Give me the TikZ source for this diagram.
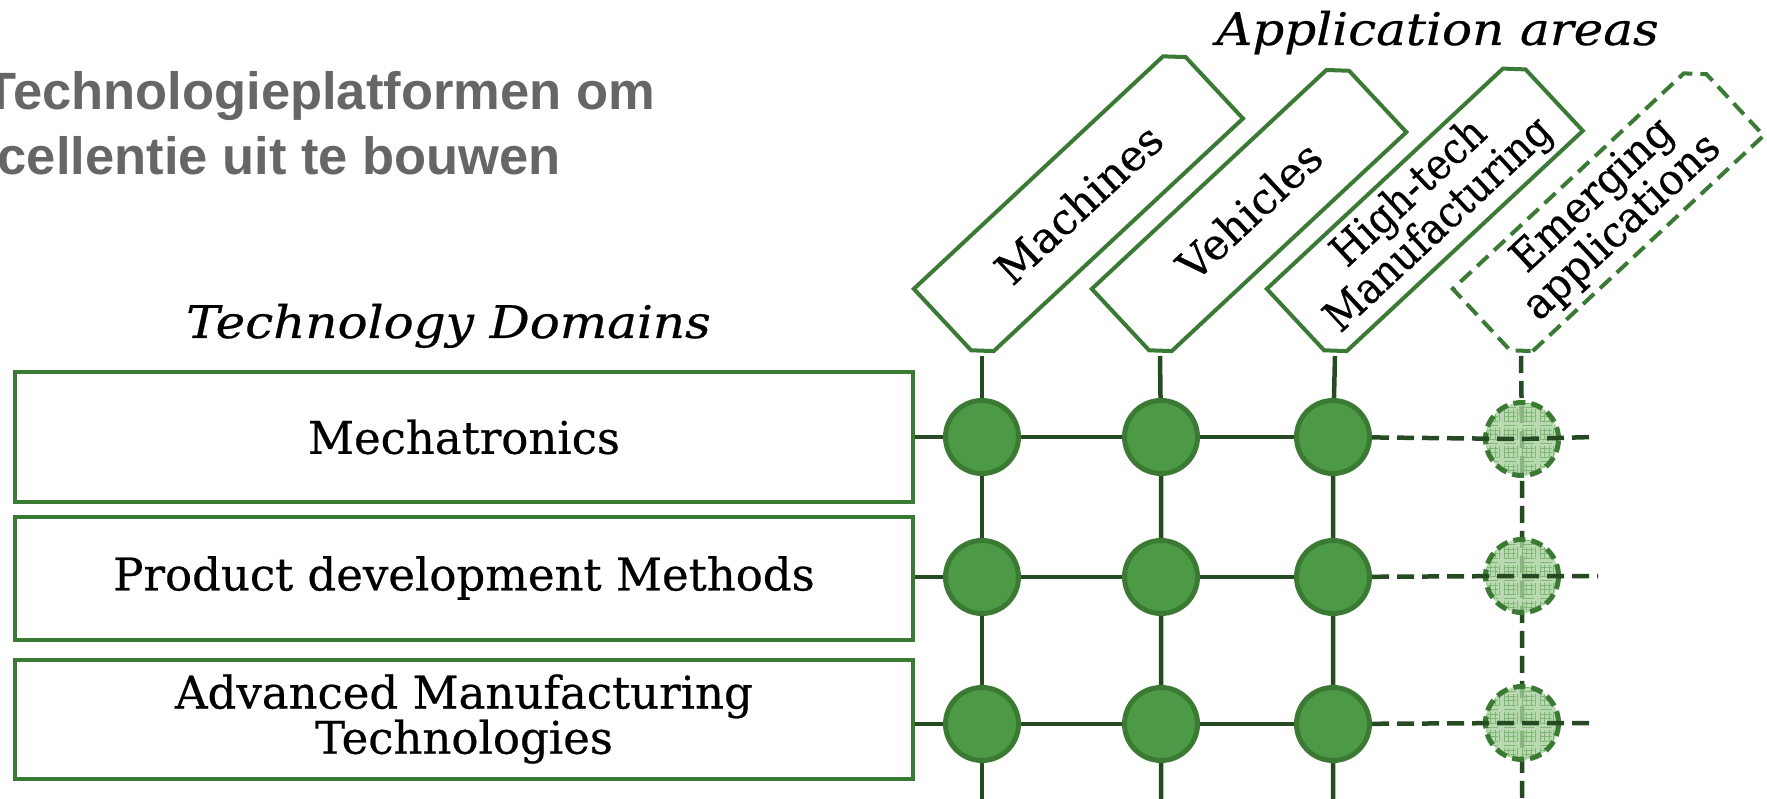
\documentclass[tikz,border=0pt]{standalone}
\usepackage{fontspec}
\setmainfont{DejaVu Serif}[FakeBold=0.5]
\newfontfamily\titlefont{Liberation Sans}
\usetikzlibrary{calc}
\definecolor{tagG}{HTML}{3B7A35}
\definecolor{lineG}{HTML}{264B22}
\definecolor{dotF}{HTML}{4C9A45}
\definecolor{dotB}{HTML}{3A7A33}
\definecolor{lightF}{HTML}{A9CFA0}
\definecolor{gridG}{HTML}{7DB874}
\definecolor{titleG}{HTML}{666666}
\pgfdeclarelayer{bg}
\pgfsetlayers{bg,main}
\newcommand\apptag[6]{%
  \draw[#4] (#2+0.731*16, 362-0.682*16) -- (#2+0.731*#3, 362-0.682*#3)
    -- (#2+0.731*#3-0.682*84, 362-0.682*#3-0.731*84)
    -- (#2+0.731*#3-0.731*16-68.2, 362-0.682*#3+0.682*16-73.1)
    -- (#2-68.2, 362-73.1) -- (#2-0.682*16, 362-0.731*16) -- cycle;
  \node[tagtext, #5] (#1) at (#2+0.3655*#3-34.1, 362-0.341*#3-36.55) {#6};
  \coordinate (#1b) at (#2, 356);
}
\begin{document}
\begin{tikzpicture}[x=1pt, y=-1pt,
  boxtext/.style={font=\fontsize{45}{40}\selectfont, align=center},
  domainbox/.style={draw=tagG, line width=4pt, fill=white, minimum width=898pt, inner sep=0pt, boxtext},
  tagtext/.style={rotate=43, align=center, font=\fontsize{43}{40}\selectfont, inner sep=0pt},
  tagline/.style={draw=tagG, line width=4pt, fill=white, line join=miter},
  tagdash/.style={tagline, dash pattern=on 15pt off 8pt},
  heading/.style={font=\fontsize{45}{50}\selectfont\itshape, inner sep=0pt, xscale=1.11},
  titletext/.style={font=\titlefont\bfseries\fontsize{52.5}{65}\selectfont, text=titleG, inner sep=0pt},
  dot/.style={circle, fill=dotF, draw=dotB, line width=5pt, minimum size=73pt, inner sep=0pt},
  edot/.style={circle, fill=lightF, fill opacity=0.8, draw=dotB, line width=5pt, dash pattern=on 12pt off 6pt, minimum size=73pt, inner sep=0pt,
    path picture={\draw[gridG, line width=0.6pt, step=4.5pt] (path picture bounding box.south west) grid (path picture bounding box.north east);}},
  link/.style={draw=lineG, line width=4.5pt},
  dlink/.style={link, dash pattern=on 17pt off 8pt}
]
\useasboundingbox (0,0) rectangle (1767,799);
\clip (0,0) rectangle (1767,799);

% title
\node[titletext, anchor=base east] (title1) at (655,110) {Technologieplatformen om};
\node[titletext, anchor=base east] (title2) at (561,175) {cellentie uit te bouwen};

% headings
\node[heading, anchor=base west] (apphead) at (1216,45) {Application areas};
\node[heading, anchor=base west] (techhead) at (186,338) {Technology Domains};

% domain boxes
\node[domainbox, minimum height=130pt] (d1) at (464,437) {Mechatronics};
\node[domainbox, minimum height=123pt] (d2) at (464,578) {Product development Methods};
\node[domainbox, minimum height=119pt] (d3) at (464,719) {Advanced Manufacturing\\Technologies};

% application tags
\apptag{t1}{982}{357}{tagline}{}{Machines}
\apptag{t2}{1160}{337}{tagline}{}{Vehicles}
\apptag{t3}{1335}{339}{tagline}{xscale=0.9}{High-tech\\Manufacturing}
\apptag{t4}{1521}{332}{tagdash}{xscale=0.95}{Emerging\\applications}

% matrix dots
\foreach \c/\x in {1/982, 2/1161, 3/1333} {
  \node[dot] (c1\c) at (\x,437) {};
  \node[dot] (c2\c) at (\x,577) {};
  \node[dot] (c3\c) at (\x,724) {};
}
\node[edot] (c14) at (1522,439) {};
\node[edot] (c24) at (1522,576) {};
\node[edot] (c34) at (1522,723) {};

% free ends
\coordinate (v1end) at (982,805);
\coordinate (v2end) at (1161,805);
\coordinate (v3end) at (1333,805);
\coordinate (v4end) at (1522,805);
\coordinate (r1end) at (1593,437);
\coordinate (r2end) at (1598,576);
\coordinate (r3end) at (1593,723);

\begin{pgfonlayer}{bg}
  \draw[link] (t1b) -- (c11.center) -- (c21.center) -- (c31.center) -- (v1end);
  \draw[link] (t2b) -- (c12.center) -- (c22.center) -- (c32.center) -- (v2end);
  \draw[link] (t3b) -- (c13.center) -- (c23.center) -- (c33.center) -- (v3end);
  \draw[dlink] (t4b) -- (c14.center) -- (c24.center) -- (c34.center) -- (v4end);
  \draw[link] (d1.east) -- (c11.center) -- (c12.center) -- (c13.center);
  \draw[link] (c21.center -| d2.east) -- (c21.center) -- (c22.center) -- (c23.center);
  \draw[link] (c31.center -| d3.east) -- (c31.center) -- (c32.center) -- (c33.center);
\end{pgfonlayer}

\draw[dlink] (c13) -- (c14.center) -- (r1end);
\draw[dlink] (c23) -- (c24.center) -- (r2end);
\draw[dlink] (c33) -- (c34.center) -- (r3end);
\end{tikzpicture}
\end{document}
